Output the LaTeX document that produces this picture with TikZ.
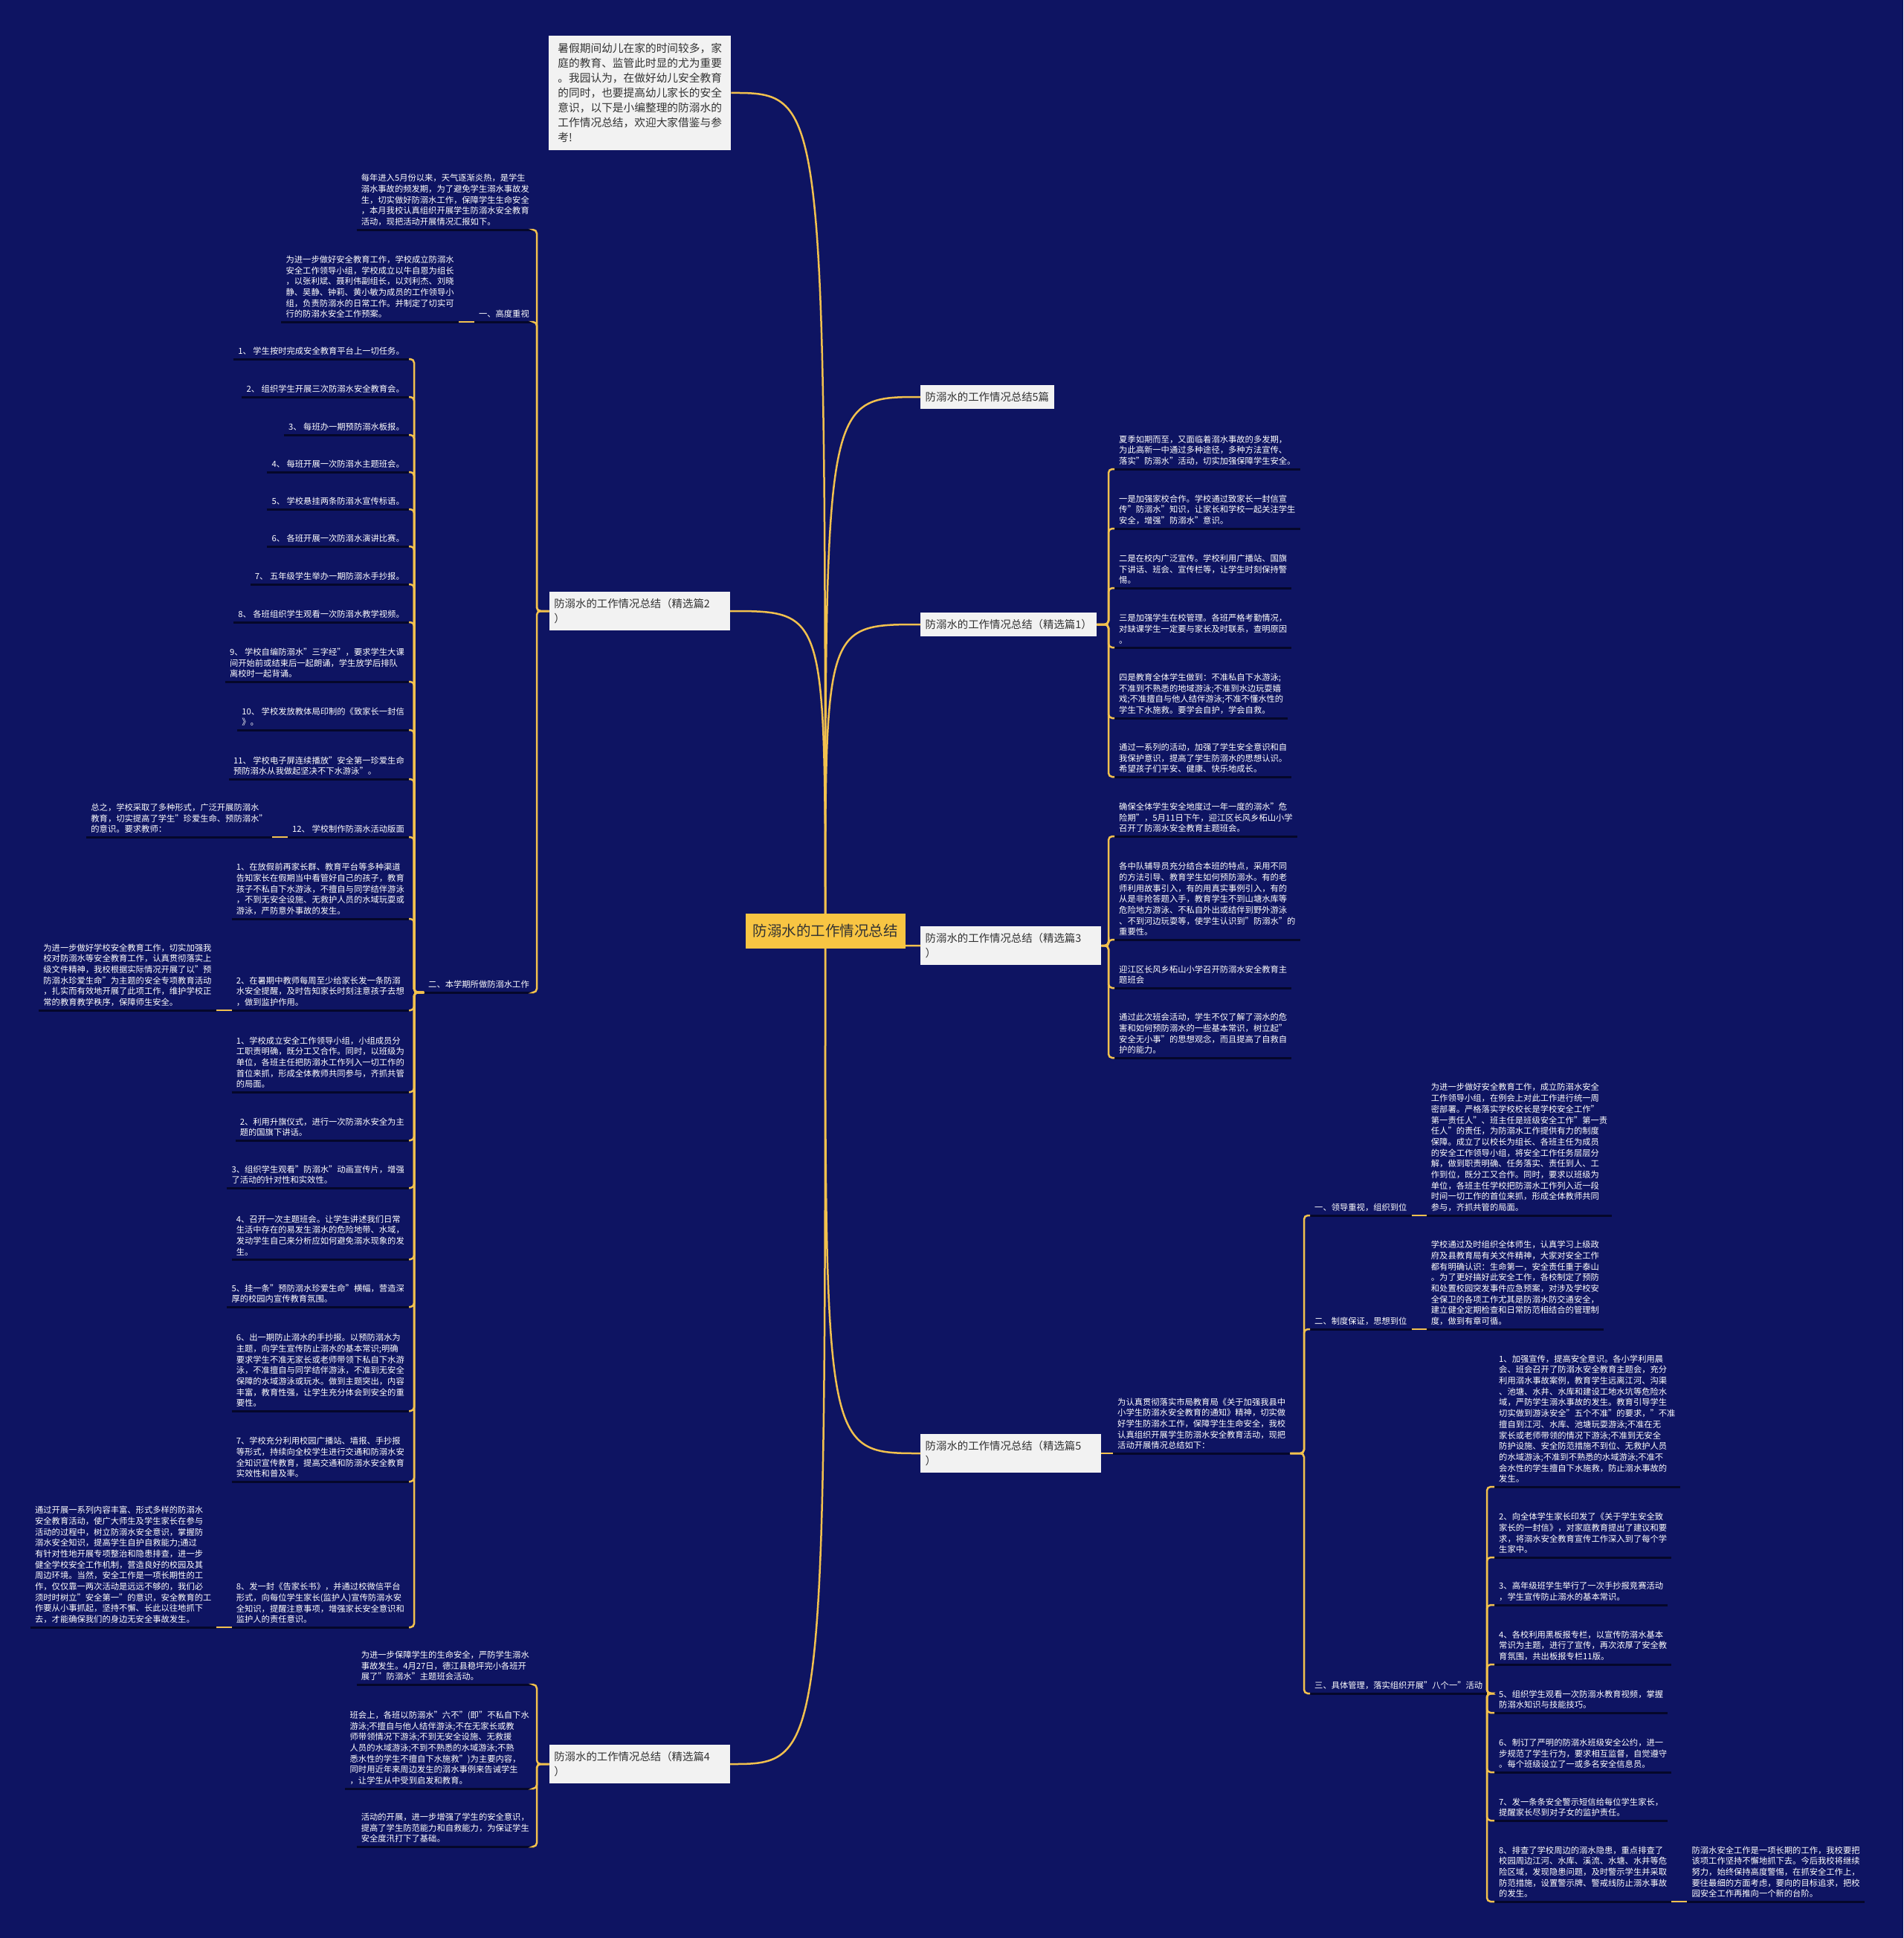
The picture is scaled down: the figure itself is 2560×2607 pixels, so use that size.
\documentclass[tikz,border=0pt]{standalone}
\usepackage{fontspec}
\setmainfont{Noto Sans CJK SC}
\usepackage{tikz}
\usetikzlibrary{positioning, calc}
\definecolor{navy}{HTML}{0E1462}
\definecolor{gold}{HTML}{F2C14E}
\definecolor{hubgold}{HTML}{F8C543}
\definecolor{card}{HTML}{F2F2F2}
\definecolor{ink}{HTML}{333333}
\definecolor{rule}{HTML}{05072A}

\begin{document}
\begin{tikzpicture}[x=1pt, y=-1pt,
        hub/.style={rectangle, fill=hubgold, text=ink, font=\fontsize{19.5}{24}\selectfont, minimum width=215, minimum height=47, inner xsep=10},
        branch/.style={rectangle, fill=card, text=ink, font=\fontsize{14.4}{20}\selectfont, align=left, inner xsep=6.5, inner ysep=9.5},
        intro/.style={rectangle, fill=card, text=ink, font=\fontsize{14.7}{20}\selectfont, align=left, inner xsep=12, inner ysep=10},
        leaf/.style={text=white, font=\fontsize{11.3}{14.7}\selectfont, align=left, inner xsep=6, inner ysep=5},
        leafL/.style={leaf, anchor=south east},
        leafR/.style={leaf, anchor=south west},
        uline/.style={draw=rule, line width=3},
        link/.style={draw=gold, line width=2.5, rounded corners=5},
        trunk/.style={draw=gold, line width=2.5}
    ]

        \fill[navy] (0,0) rectangle (2560,2607);
        \useasboundingbox (0,0) rectangle (2560,2607);

        % ================= 主干 =================
        \coordinate (c0) at (1110,1252);
        \node[intro, anchor=north west, minimum width=245] (intro) at (738,48) {暑假期间幼儿在家的时间较多，家\\庭的教育、监管此时显的尤为重要\\。我园认为，在做好幼儿安全教育\\的同时，也要提高幼儿家长的安全\\意识，以下是小编整理的防溺水的\\工作情况总结，欢迎大家借鉴与参\\考!};
        \node[branch, anchor=west] (b5p) at (1238,534) {防溺水的工作情况总结5篇};
        \node[branch, anchor=east, text width=230] (b2) at (982,822) {防溺水的工作情况总结（精选篇2\\）};
        \node[branch, anchor=west] (b1) at (1238,840) {防溺水的工作情况总结（精选篇1）};
        \node[branch, anchor=west, text width=230] (b3) at (1238,1272) {防溺水的工作情况总结（精选篇3\\）};
        \node[branch, anchor=west, text width=230] (b5) at (1238,1955) {防溺水的工作情况总结（精选篇5\\）};
        \node[branch, anchor=east, text width=230] (b4) at (982,2373) {防溺水的工作情况总结（精选篇4\\）};

        % ================= 精选篇2 =================
        \node[leafL] (a0) at (718,309) {每年进入5月份以来，天气逐渐炎热，是学生\\溺水事故的频发期，为了避免学生溺水事故发\\生，切实做好防溺水工作，保障学生生命安全\\，本月我校认真组织开展学生防溺水安全教育\\活动，现把活动开展情况汇报如下。};
        \node[leafL] (a1) at (718,433) {一、高度重视};
        \node[leafL] (a1x) at ([xshift=-21]a1.south west) {为进一步做好安全教育工作，学校成立防溺水\\安全工作领导小组，学校成立以牛自恩为组长\\，以张利斌、聂利伟副组长，以刘利杰、刘晓\\静、吴静、钟莉、黄小敏为成员的工作领导小\\组，负责防溺水的日常工作。并制定了切实可\\行的防溺水安全工作预案。};
        \node[leafL] (a2) at (718,1335) {二、本学期所做防溺水工作};

        \node[leafL] (p1) at (550,483) {1、 学生按时完成安全教育平台上一切任务。};
        \node[leafL] (p2) at (550,534) {2、 组织学生开展三次防溺水安全教育会。};
        \node[leafL] (p3) at (550,585) {3、 每班办一期预防溺水板报。};
        \node[leafL] (p4) at (550,635) {4、 每班开展一次防溺水主题班会。};
        \node[leafL] (p5) at (550,685) {5、 学校悬挂两条防溺水宣传标语。};
        \node[leafL] (p6) at (550,735) {6、 各班开展一次防溺水演讲比赛。};
        \node[leafL] (p7) at (550,786) {7、 五年级学生举办一期防溺水手抄报。};
        \node[leafL] (p8) at (550,837) {8、 各班组织学生观看一次防溺水教学视频。};
        \node[leafL] (p9) at (550,917) {9、 学校自编防溺水"三字经"，要求学生大课\\间开始前或结束后一起朗诵，学生放学后排队\\离校时一起背诵。};
        \node[leafL] (p10) at (550,982) {10、 学校发放教体局印制的《致家长一封信\\》。};
        \node[leafL] (p11) at (550,1048) {11、 学校电子屏连续播放"安全第一珍爱生命\\预防溺水从我做起坚决不下水游泳"。};
        \node[leafL] (p12) at (550,1126) {12、 学校制作防溺水活动版面};
        \node[leafL] (p12x) at ([xshift=-21]p12.south west) {总之，学校采取了多种形式，广泛开展防溺水\\教育，切实提高了学生"珍爱生命、预防溺水"\\的意识。要求教师：};
        \node[leafL] (q1) at (550,1236) {1、在放假前再家长群、教育平台等多种渠道\\告知家长在假期当中看管好自己的孩子，教育\\孩子不私自下水游泳，不擅自与同学结伴游泳\\，不到无安全设施、无救护人员的水域玩耍或\\游泳，严防意外事故的发生。};
        \node[leafL] (q2) at (550,1359) {2、在暑期中教师每周至少给家长发一条防溺\\水安全提醒，及时告知家长时刻注意孩子去想\\，做到监护作用。};
        \node[leafL] (q2x) at ([xshift=-21]q2.south west) {为进一步做好学校安全教育工作，切实加强我\\校对防溺水等安全教育工作，认真贯彻落实上\\级文件精神，我校根据实际情况开展了以"预\\防溺水珍爱生命"为主题的安全专项教育活动\\，扎实而有效地开展了此项工作，维护学校正\\常的教育教学秩序，保障师生安全。};
        \node[leafL] (r1) at (550,1469) {1、学校成立安全工作领导小组，小组成员分\\工职责明确，既分工又合作。同时，以班级为\\单位，各班主任把防溺水工作列入一切工作的\\首位来抓，形成全体教师共同参与，齐抓共管\\的局面。};
        \node[leafL] (r2) at (550,1534) {2、利用升旗仪式，进行一次防溺水安全为主\\题的国旗下讲话。};
        \node[leafL] (r3) at (550,1598) {3、组织学生观看"防溺水"动画宣传片，增强\\了活动的针对性和实效性。};
        \node[leafL] (r4) at (550,1694) {4、召开一次主题班会。让学生讲述我们日常\\生活中存在的易发生溺水的危险地带、水域，\\发动学生自己来分析应如何避免溺水现象的发\\生。};
        \node[leafL] (r5) at (550,1758) {5、挂一条"预防溺水珍爱生命"横幅，营造深\\厚的校园内宣传教育氛围。};
        \node[leafL] (r6) at (550,1898) {6、出一期防止溺水的手抄报。以预防溺水为\\主题，向学生宣传防止溺水的基本常识;明确\\要求学生不准无家长或老师带领下私自下水游\\泳，不准擅自与同学结伴游泳，不准到无安全\\保障的水域游泳或玩水。做到主题突出，内容\\丰富，教育性强，让学生充分体会到安全的重\\要性。};
        \node[leafL] (r7) at (550,1993) {7、学校充分利用校园广播站、墙报、手抄报\\等形式，持续向全校学生进行交通和防溺水安\\全知识宣传教育，提高交通和防溺水安全教育\\实效性和普及率。};
        \node[leafL] (r8) at (550,2189) {8、发一封《告家长书》，并通过校微信平台\\形式，向每位学生家长(监护人)宣传防溺水安\\全知识，提醒注意事项，增强家长安全意识和\\监护人的责任意识。};
        \node[leafL] (r8x) at ([xshift=-21]r8.south west) {通过开展一系列内容丰富、形式多样的防溺水\\安全教育活动，使广大师生及学生家长在参与\\活动的过程中，树立防溺水安全意识，掌握防\\溺水安全知识，提高学生自护自救能力;通过\\有针对性地开展专项整治和隐患排查，进一步\\健全学校安全工作机制，营造良好的校园及其\\周边环境。当然，安全工作是一项长期性的工\\作，仅仅靠一两次活动是远远不够的，我们必\\须时时树立"安全第一"的意识，安全教育的工\\作要从小事抓起，坚持不懈、长此以往地抓下\\去，才能确保我们的身边无安全事故发生。};

        % ================= 精选篇4 =================
        \node[leafL] (f1) at (718,2266) {为进一步保障学生的生命安全，严防学生溺水\\事故发生。4月27日，德江县稳坪完小各班开\\展了"防溺水"主题班会活动。};
        \node[leafL] (f2) at (718,2406) {班会上，各班以防溺水"六不"(即"不私自下水\\游泳;不擅自与他人结伴游泳;不在无家长或教\\师带领情况下游泳;不到无安全设施、无救援\\人员的水域游泳;不到不熟悉的水域游泳;不熟\\悉水性的学生不擅自下水施救")为主要内容，\\同时用近年来周边发生的溺水事例来告诫学生\\，让学生从中受到启发和教育。};
        \node[leafL] (f3) at (718,2484) {活动的开展，进一步增强了学生的安全意识，\\提高了学生防范能力和自救能力，为保证学生\\安全度汛打下了基础。};

        % ================= 精选篇1 =================
        \node[leafR] (s1) at (1499,631) {夏季如期而至，又面临着溺水事故的多发期，\\为此高新一中通过多种途径，多种方法宣传、\\落实"防溺水"活动，切实加强保障学生安全。};
        \node[leafR] (s2) at (1499,711) {一是加强家校合作。学校通过致家长一封信宣\\传"防溺水"知识，让家长和学校一起关注学生\\安全，增强"防溺水"意识。};
        \node[leafR] (s3) at (1499,791) {二是在校内广泛宣传。学校利用广播站、国旗\\下讲话、班会、宣传栏等，让学生时刻保持警\\惕。};
        \node[leafR] (s4) at (1499,871) {三是加强学生在校管理。各班严格考勤情况，\\对缺课学生一定要与家长及时联系，查明原因\\。};
        \node[leafR] (s5) at (1499,966) {四是教育全体学生做到：不准私自下水游泳;\\不准到不熟悉的地域游泳;不准到水边玩耍嬉\\戏;不准擅自与他人结伴游泳;不准不懂水性的\\学生下水施救。要学会自护，学会自救。};
        \node[leafR] (s6) at (1499,1045) {通过一系列的活动，加强了学生安全意识和自\\我保护意识，提高了学生防溺水的思想认识。\\希望孩子们平安、健康、快乐地成长。};

        % ================= 精选篇3 =================
        \node[leafR] (t1) at (1499,1125) {确保全体学生安全地度过一年一度的溺水"危\\险期"，5月11日下午，迎江区长风乡柘山小学\\召开了防溺水安全教育主题班会。};
        \node[leafR] (t2) at (1499,1264) {各中队辅导员充分结合本班的特点，采用不同\\的方法引导、教育学生如何预防溺水。有的老\\师利用故事引入，有的用真实事例引入，有的\\从是非抢答题入手，教育学生不到山塘水库等\\危险地方游泳、不私自外出或结伴到野外游泳\\、不到河边玩耍等，使学生认识到"防溺水"的\\重要性。};
        \node[leafR] (t3) at (1499,1329) {迎江区长风乡柘山小学召开防溺水安全教育主\\题班会};
        \node[leafR] (t4) at (1499,1423) {通过此次班会活动，学生不仅了解了溺水的危\\害和如何预防溺水的一些基本常识，树立起"\\安全无小事"的思想观念，而且提高了自救自\\护的能力。};

        % ================= 精选篇5 =================
        \node[leafR] (u0) at (1497,1955) {为认真贯彻落实市局教育局《关于加强我县中\\小学生防溺水安全教育的通知》精神，切实做\\好学生防溺水工作，保障学生生命安全，我校\\认真组织开展学生防溺水安全教育活动，现把\\活动开展情况总结如下：};
        \node[leafR] (u1) at (1762,1635) {一、领导重视，组织到位};
        \node[leafR] (u1x) at ([xshift=20]u1.south east) {为进一步做好安全教育工作，成立防溺水安全\\工作领导小组，在例会上对此工作进行统一周\\密部署。严格落实学校校长是学校安全工作"\\第一责任人"、班主任是班级安全工作"第一责\\任人"的责任，为防溺水工作提供有力的制度\\保障。成立了以校长为组长、各班主任为成员\\的安全工作领导小组，将安全工作任务层层分\\解，做到职责明确、任务落实、责任到人、工\\作到位，既分工又合作。同时，要求以班级为\\单位，各班主任学校把防溺水工作列入近一段\\时间一切工作的首位来抓，形成全体教师共同\\参与，齐抓共管的局面。};
        \node[leafR] (u2) at (1762,1788) {二、制度保证，思想到位};
        \node[leafR] (u2x) at ([xshift=20]u2.south east) {学校通过及时组织全体师生，认真学习上级政\\府及县教育局有关文件精神，大家对安全工作\\都有明确认识：生命第一，安全责任重于泰山\\。为了更好搞好此安全工作，各校制定了预防\\和处置校园突发事件应急预案，对涉及学校安\\全保卫的各项工作尤其是防溺水防交通安全，\\建立健全定期检查和日常防范相结合的管理制\\度，做到有章可循。};
        \node[leafR] (u3) at (1762,2278) {三、具体管理，落实组织开展"八个一"活动};

        \node[leafR] (v1) at (2010,2000) {1、加强宣传，提高安全意识。各小学利用晨\\会、班会召开了防溺水安全教育主题会，充分\\利用溺水事故案例，教育学生远离江河、沟渠\\、池塘、水井、水库和建设工地水坑等危险水\\域，严防学生溺水事故的发生。教育引导学生\\切实做到游泳安全"五个不准"的要求，"不准\\擅自到江河、水库、池塘玩耍游泳;不准在无\\家长或老师带领的情况下游泳;不准到无安全\\防护设施、安全防范措施不到位、无救护人员\\的水域游泳;不准到不熟悉的水域游泳;不准不\\会水性的学生擅自下水施救，防止溺水事故的\\发生。};
        \node[leafR] (v2) at (2010,2095) {2、向全体学生家长印发了《关于学生安全致\\家长的一封信》，对家庭教育提出了建议和要\\求，将溺水安全教育宣传工作深入到了每个学\\生家中。};
        \node[leafR] (v3) at (2010,2159) {3、高年级班学生举行了一次手抄报竞赛活动\\，学生宣传防止溺水的基本常识。};
        \node[leafR] (v4) at (2010,2239) {4、各校利用黑板报专栏，以宣传防溺水基本\\常识为主题，进行了宣传，再次浓厚了安全教\\育氛围，共出板报专栏11版。};
        \node[leafR] (v5) at (2010,2304) {5、组织学生观看一次防溺水教育视频，掌握\\防溺水知识与技能技巧。};
        \node[leafR] (v6) at (2010,2384) {6、制订了严明的防溺水班级安全公约，进一\\步规范了学生行为，要求相互监督，自觉遵守\\。每个班级设立了一或多名安全信息员。};
        \node[leafR] (v7) at (2010,2449) {7、发一条条安全警示短信给每位学生家长，\\提醒家长尽到对子女的监护责任。};
        \node[leafR] (v8) at (2010,2558) {8、排查了学校周边的溺水隐患，重点排查了\\校园周边江河、水库、溪流、水塘、水井等危\\险区域，发现隐患问题，及时警示学生并采取\\防范措施，设置警示牌、警戒线防止溺水事故\\的发生。};
        \node[leafR] (v8x) at ([xshift=21]v8.south east) {防溺水安全工作是一项长期的工作，我校要把\\该项工作坚持不懈地抓下去。今后我校将继续\\努力，始终保持高度警惕，在抓安全工作上，\\要往最细的方面考虑，要向的目标追求，把校\\园安全工作再推向一个新的台阶。};

        % 下划线
        \foreach \n in {a0,a1,a1x,a2,p1,p2,p3,p4,p5,p6,p7,p8,p9,p10,p11,p12,p12x,q1,q2,q2x,r1,r2,r3,r4,r5,r6,r7,r8,r8x,f1,f2,f3,s1,s2,s3,s4,s5,s6,t1,t2,t3,t4,u0,u1,u1x,u2,u2x,u3,v1,v2,v3,v4,v5,v6,v7,v8,v8x}
            \draw[uline] (\n.south west) -- (\n.south east);

        % 分支连线
        \foreach \c in {a0,a1,a2} \draw[link] (b2.west) -- (722,822) |- (\c.south east);
        \foreach \c in {p1,p2,p3,p4,p5,p6,p7,p8,p9,p10,p11,p12,q1,q2,r1,r2,r3,r4,r5,r6,r7,r8}
            \draw[link] (a2.south west) -- (557,1335) |- (\c.south east);
        \foreach \c in {f1,f2,f3} \draw[link] (b4.west) -- (722,2373) |- (\c.south east);
        \foreach \c in {s1,s2,s3,s4,s5,s6} \draw[link] (b1.east) -- (1491,840) |- (\c.south west);
        \foreach \c in {t1,t2,t3,t4} \draw[link] (b3.east) -- (1491,1272) |- (\c.south west);
        \draw[link] (b5.east) -- (u0.south west);
        \foreach \c in {u1,u2,u3} \draw[link] (u0.south east) -- (1754,1955) |- (\c.south west);
        \foreach \c in {v1,v2,v3,v4,v5,v6,v7,v8} \draw[link] (u3.south east) -- (2000,2278) |- (\c.south west);

        \draw[link] (a1.south west) -- (a1x.south east);
        \draw[link] (p12.south west) -- (p12x.south east);
        \draw[link] (q2.south west) -- (q2x.south east);
        \draw[link] (r8.south west) -- (r8x.south east);
        \draw[link] (u1.south east) -- (u1x.south west);
        \draw[link] (u2.south east) -- (u2x.south west);
        \draw[link] (v8.south east) -- (v8x.south west);

        % 中心曲线
        \foreach \b/\a in {intro/east, b5p/west, b2/east, b1/west, b3/west, b5/west, b4/east}
            \draw[trunk] (c0) .. controls (c0 |- \b.\a) .. (\b.\a);

        \node[hub] (hub) at (c0) {防溺水的工作情况总结};

    \end{tikzpicture}
\end{document}
